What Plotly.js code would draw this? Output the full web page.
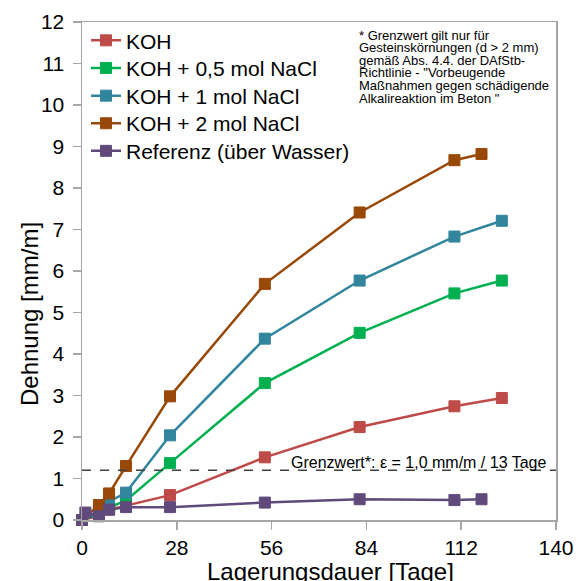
<!DOCTYPE html>
<html>
<head>
<meta charset="utf-8">
<script src="https://cdn.plot.ly/plotly-3.0.1.min.js"></script>
<style>html,body{margin:0;padding:0;background:#fff;}#chart{width:585px;height:581px;}</style>
</head>
<body>
<div id="chart"></div>
<script>
// Series names
const seriesNames = ["KOH", "KOH + 0,5 mol NaCl", "KOH + 1 mol NaCl", "KOH + 2 mol NaCl", "Referenz (über Wasser)"];
// Storage days per series
const daysKOH   = [0, 5, 8, 13, 26, 54, 82, 110, 124];
const daysNa05  = [0, 5, 8, 13, 26, 54, 82, 110, 124];
const daysNa1   = [0, 5, 8, 13, 26, 54, 82, 110, 124];
const daysNa2   = [0, 5, 8, 13, 26, 54, 82, 110, 118];
const daysRef   = [0, 1, 5, 8, 13, 26, 54, 82, 110, 118];
// Expansion [mm/m]
const valKOH  = [0, 0.10, 0.25, 0.35, 0.60, 1.51, 2.24, 2.74, 2.94];
const valNa05 = [0, 0.15, 0.30, 0.47, 1.37, 3.30, 4.51, 5.46, 5.77];
const valNa1  = [0, 0.20, 0.44, 0.66, 2.04, 4.37, 5.77, 6.83, 7.21];
const valNa2  = [0, 0.36, 0.64, 1.30, 2.98, 5.69, 7.41, 8.67, 8.82];
const valRef  = [0, 0.18, 0.09, 0.25, 0.31, 0.31, 0.42, 0.50, 0.48, 0.50];
// Limit value line
const grenzwert = 1.2;
const grenzwertLabel = "Grenzwert*: ε = 1,0 mm/m / 13 Tage";
const noteLines = [
  "* Grenzwert gilt nur für",
  "Gesteinskörnungen (d > 2 mm)",
  "gemäß Abs. 4.4. der DAfStb-",
  "Richtlinie - \"Vorbeugende",
  "Maßnahmen gegen schädigende",
  "Alkalireaktion im Beton \""
];
const xTicks = [0, 28, 56, 84, 112, 140];
const yTicks = [0,1,2,3,4,5,6,7,8,9,10,11,12];
const xTitle = "Lagerungsdauer [Tage]";
const yTitle = "Dehnung [mm/m]";

const colors = ["#BE4B48", "#00B050", "#31859C", "#984807", "#604A7B"];
const xs = [daysKOH, daysNa05, daysNa1, daysNa2, daysRef];
const ys = [valKOH, valNa05, valNa1, valNa2, valRef];

const FONT = "Arial, 'Liberation Sans', sans-serif";
const legendIds = ["legend", "legend2", "legend3", "legend4", "legend5"];

const traces = seriesNames.map((n, i) => ({
  type: "scatter",
  mode: "lines+markers",
  name: n,
  legend: legendIds[i],
  x: xs[i],
  y: ys[i],
  cliponaxis: false,
  line: {color: colors[i], width: 2.5},
  marker: {symbol: "square", size: 11, color: colors[i], line: {color: colors[i], width: 1}}
}));

// plot area in px: left 82, right 556, top 22, bottom 520
const L = 82, R = 556, T = 22, B = 520;
const px2x = p => (p - L) / (R - L);
const px2y = p => (B - p) / (B - T);

const noteY = [35, 47.6, 60.2, 72.8, 85.4, 98];
const annotations = noteLines.map((t, i) => ({
  text: t, xref: "paper", yref: "paper", x: px2x(358), y: px2y(noteY[i]),
  xanchor: "left", yanchor: "middle", showarrow: false, borderpad: 0,
  font: {family: FONT, size: 13, color: "#000"}
}));
annotations.push({
  text: grenzwertLabel, xref: "paper", yref: "paper", x: px2x(548), y: px2y(462),
  xanchor: "right", yanchor: "middle", showarrow: false,
  font: {family: FONT, size: 16, color: "#000"}
});
annotations.push({
  text: yTitle, xref: "paper", yref: "paper", x: px2x(29), y: px2y(314),
  xanchor: "center", yanchor: "middle", textangle: -90, showarrow: false,
  font: {family: FONT, size: 24, color: "#000"}
});
annotations.push({
  text: xTitle, xref: "paper", yref: "paper", x: px2x(330), y: px2y(571),
  xanchor: "center", yanchor: "middle", showarrow: false, borderpad: 0,
  font: {family: FONT, size: 24, color: "#000"}
});

const axisCommon = {
  showgrid: false, zeroline: false, showline: true, mirror: true,
  linecolor: "#A6A6A6", linewidth: 1.5,
  ticks: "outside", tickcolor: "#A6A6A6", tickwidth: 1.5, ticklen: 8,
  tickfont: {family: FONT, size: 21, color: "#000"}
};

const legendY = [40.7, 68.3, 96.0, 123.6, 151.2];

const layout = {
  width: 585, height: 581,
  margin: {l: L, r: 585 - R, t: T, b: 581 - B},
  paper_bgcolor: "#fff", plot_bgcolor: "#fff",
  showlegend: true,
  xaxis: Object.assign({}, axisCommon, {range: [0, 140], tickvals: xTicks, ticktext: xTicks.map(String)}),
  yaxis: Object.assign({}, axisCommon, {range: [0, 12], tickvals: yTicks, ticktext: yTicks.map(String), ticklabelstandoff: 4}),
  shapes: [{
    type: "line", xref: "paper", yref: "y", x0: 0, x1: 1, y0: grenzwert, y1: grenzwert,
    line: {color: "#404040", width: 1.5, dash: "dash"}
  }],
  annotations: annotations
};
legendIds.forEach((id, i) => {
  layout[id] = {
    x: px2x(86), y: px2y(legendY[i]), xanchor: "left", yanchor: "middle",
    bgcolor: "rgba(0,0,0,0)", font: {family: FONT, size: 21, color: "#000"},
    itemwidth: 30
  };
});

Plotly.newPlot("chart", traces, layout, {displayModeBar: false, staticPlot: true});
</script>
</body>
</html>
